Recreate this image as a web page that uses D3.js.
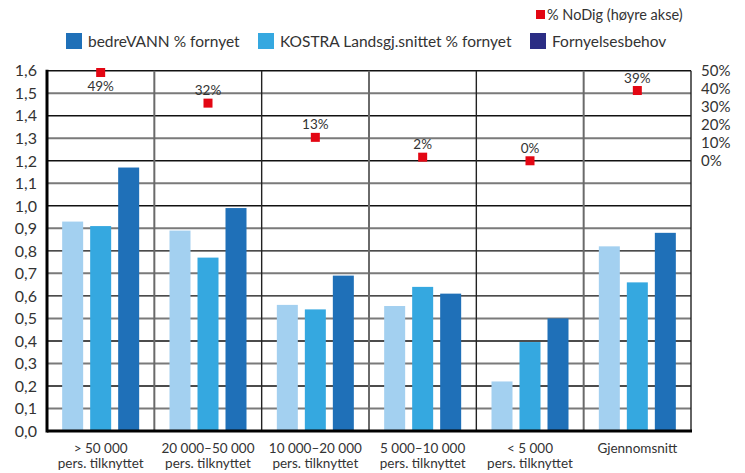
<!DOCTYPE html>
<html><head><meta charset="utf-8">
<script src="https://cdn.jsdelivr.net/npm/d3@7"></script>
<style>
body{margin:0;background:#fff;}
svg{display:block;font-family:Lato,sans-serif;}
</style></head>
<body><svg id="c" width="745" height="473"></svg>
<script>
const categories = [["> 50 000","pers. tilknyttet"],["20 000–50 000","pers. tilknyttet"],["10 000–20 000","pers. tilknyttet"],["5 000–10 000","pers. tilknyttet"],["< 5 000","pers. tilknyttet"],["Gjennomsnitt",""]];
const seriesA = [0.93,0.89,0.56,0.555,0.22,0.82];
const seriesB = [0.91,0.77,0.54,0.64,0.395,0.66];
const seriesC = [1.17,0.99,0.69,0.61,0.50,0.88];
const noDig = [49,32,13,2,0,39];
const leftTicks = [0,0.1,0.2,0.3,0.4,0.5,0.6,0.7,0.8,0.9,1.0,1.1,1.2,1.3,1.4,1.5,1.6];
const rightTicks = [0,10,20,30,40,50];
const legendNames = ["bedreVANN % fornyet","KOSTRA Landsgj.snittet % fornyet","Fornyelsesbehov"];
const noDigName = "% NoDig (høyre akse)";

const svg = d3.select("#c");
const L=47, R=691, T=70.7, B=431;
const fmt = d => d3.format(".1f")(d).replace(".",",");
const x0 = d3.scaleBand().domain(d3.range(categories.length)).range([L,R]).padding(0);
const gw = x0.bandwidth();
const x1 = d3.scaleBand().domain([0,1,2]).range([gw/2-42, gw/2+42]).paddingInner(0.25).paddingOuter(0.125);
const y = d3.scaleLinear().domain([0,1.6]).range([B,T]);
const yR = d3.scaleLinear().domain([0,50]).range([y(1.2), y(1.6)]);

// grid
svg.append("g").selectAll("line").data(leftTicks.slice(1)).join("line")
  .attr("x1",L).attr("x2",R).attr("y1",d=>y(d)).attr("y2",d=>y(d))
  .attr("stroke",(d,i)=> i%2===0 ? "#7a7a7a" : "#111")
  .attr("stroke-width",(d,i)=> i%2===0 ? 2 : 1.4);
// vertical separators
svg.append("g").selectAll("line").data(d3.range(1,categories.length+1)).join("line")
  .attr("x1",d=>x0(d-1)+gw).attr("x2",d=>x0(d-1)+gw).attr("y1",T).attr("y2",B)
  .attr("stroke",(d,i)=> i%2===0 ? "#6a6a6a" : "#222")
  .attr("stroke-width",(d,i)=> i%2===0 ? 2 : 1.4);

// bars
const barColors = ["#a3d0f0","#35a8e0","#1f70b8"];
const series = [seriesA,seriesB,seriesC];
const gg = svg.append("g").selectAll("g").data(categories).join("g")
  .attr("transform",(d,i)=>`translate(${x0(i)},0)`);
gg.selectAll("rect").data((d,i)=>series.map((s,k)=>({k,v:s[i]}))).join("rect")
  .attr("x",d=>x1(d.k)).attr("width",x1.bandwidth())
  .attr("y",d=>y(d.v)).attr("height",d=>B-y(d.v))
  .attr("fill",d=>barColors[d.k]);

// axes lines
svg.append("line").attr("x1",L).attr("x2",L).attr("y1",T-1).attr("y2",B+1.5).attr("stroke","#000").attr("stroke-width",3);
svg.append("line").attr("x1",L).attr("x2",R+1).attr("y1",B).attr("y2",B).attr("stroke","#000").attr("stroke-width",3);

// left tick labels
svg.append("g").selectAll("text").data(leftTicks).join("text")
  .attr("x",37).attr("y",d=>y(d)).attr("dy","0.36em").attr("text-anchor","end")
  .attr("font-size",16).attr("fill","#333").text(fmt);
// right tick labels
svg.append("g").selectAll("text").data(rightTicks).join("text")
  .attr("x",701).attr("y",d=>yR(d)).attr("dy","0.36em").attr("text-anchor","start")
  .attr("font-size",15).attr("fill","#333").text(d=>d+"%");

// category labels
const cl = svg.append("g").selectAll("text").data(categories).join("text")
  .attr("x",(d,i)=>x0(i)+gw/2).attr("y",453).attr("text-anchor","middle")
  .attr("font-size",13.5).attr("fill","#333");
cl.append("tspan").attr("x",(d,i)=>x0(i)+gw/2).text(d=>d[0]);
cl.append("tspan").attr("x",(d,i)=>x0(i)+gw/2).attr("dy",15).text(d=>d[1]);

// NoDig points
const pg = svg.append("g");
pg.selectAll("rect").data(noDig).join("rect")
  .attr("x",(d,i)=>x0(i)+gw/2-4.5).attr("y",d=>yR(d)-4.5).attr("width",9).attr("height",9).attr("fill","#e30613");
pg.selectAll("text").data(noDig).join("text")
  .attr("x",(d,i)=>x0(i)+gw/2).attr("y",d=> yR(d)-12 < T ? yR(d)+18 : yR(d)-8)
  .attr("text-anchor","middle").attr("font-size",13.5).attr("fill","#333").text(d=>d+"%");

// legend
const lg = svg.append("g");
lg.append("rect").attr("x",536).attr("y",10).attr("width",9).attr("height",9).attr("fill","#e30613");
lg.append("text").attr("x",547).attr("y",14.5).attr("dy","0.36em").attr("font-size",14.5).attr("fill","#333").text(noDigName);
const legColors = ["#1f70b8","#35a8e0","#2b2d84"];
const legX = [66,258,530];
legendNames.forEach((n,i)=>{
  lg.append("rect").attr("x",legX[i]).attr("y",33).attr("width",16).attr("height",16).attr("fill",legColors[i]);
  lg.append("text").attr("x",legX[i]+22).attr("y",41).attr("dy","0.36em").attr("font-size",15.5).attr("fill","#333").text(n);
});
</script></body></html>
